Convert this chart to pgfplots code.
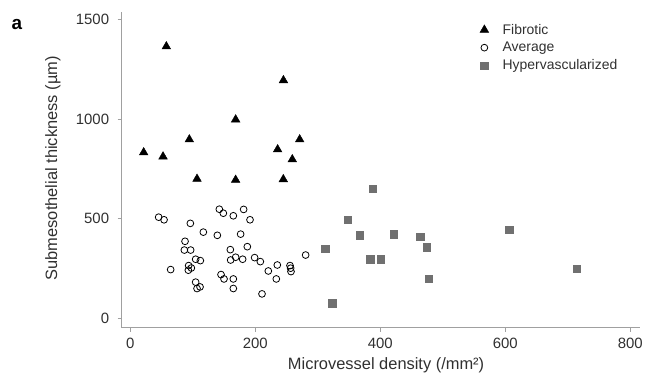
\documentclass[border=0pt]{standalone}
\usepackage{pgfplots}
\pgfplotsset{compat=1.18}
\usepackage{fontspec}
\setmainfont{Liberation Sans}
\definecolor{axgray}{HTML}{A0A0A0}
\definecolor{txt}{HTML}{303030}
\definecolor{sq}{HTML}{707070}
\begin{document}
\begin{tikzpicture}
\begin{axis}[
  scale only axis, width=519bp, height=316bp,
  xmin=-14, xmax=816, ymin=-47, ymax=1538,
  axis x line*=bottom, axis y line*=left,
  axis line style={axgray, line width=0.8bp},
  xtick={0,200,400,600,800}, ytick={0,500,1000,1500},
  tick align=outside, major tick length=4bp,
  tick style={axgray, line width=0.8bp},
  /pgf/number format/assume math mode=true,
  /pgf/number format/1000 sep={},
  ticklabel style={font=\fontsize{15}{17}\selectfont, text=txt},
  yticklabel style={xshift=-5bp},
  xticklabel style={yshift=-3bp},
  xlabel={Microvessel density (/mm²)},
  ylabel={Submesothelial thickness (µm)},
  label style={font=\fontsize{16.5}{18}\selectfont, text=txt},
  xlabel style={at={(axis description cs:0.51,0)}, anchor=center, yshift=-38bp},
  ylabel style={at={(axis description cs:-0.1324,0.505)}, anchor=center},
  legend style={draw=none, fill=none, at={(0.685,0.975)}, anchor=north west,
    font=\fontsize{14}{16}\selectfont, text=txt, row sep=2.5bp,
    /tikz/every odd column/.append style={column sep=12bp}},
  legend cell align=left,
  clip=false,
]
\addplot[only marks, mark=triangle*, mark size=5bp, black] coordinates {
(57.6,1365) (245,1195) (168.5,998) (94.4,898) (271,898) (21.3,833)
(52.3,812) (235.7,848) (259.2,798) (106.7,700) (168.5,695) (244.8,698)
};
\addlegendentry{Fibrotic}
\addplot[only marks, mark=o, mark size=3.4bp, black, line width=0.8bp] coordinates {
(45.3,508) (53.9,495) (142.4,548) (148.8,528) (164.8,515) (181.3,547)
(191.5,495) (96,477) (116.8,433) (139.2,417) (176.5,423) (87.5,387)
(86.4,343) (96.5,343) (160,345) (187.2,360) (104.5,297) (112,290)
(160.5,293) (168.5,307) (179.7,297) (198.9,305) (208,285) (64.5,245)
(93.3,265) (97.6,253) (92.8,242) (220.8,238) (235.2,268) (255.5,265)
(256.5,252) (257.1,235) (280.5,318) (145.1,220) (149.9,198) (164.8,198)
(233.6,198) (104.5,182) (106.7,150) (111.5,158) (164.8,150) (210.7,123)
};
\addlegendentry{Average}
\addplot[only marks, mark=square*, mark size=3.7bp, sq, draw=sq] coordinates {
(387.7,650) (348.3,495) (367.5,417) (421.3,423) (464,410) (312,350)
(474,358) (384,297) (401,297) (477.3,198) (323.2,77) (606,445) (714,248)
};
\addlegendentry{Hypervascularized}
\node[font=\fontsize{19}{21}\selectfont\bfseries, text=black] at (axis description cs:-0.2017,0.959) {a};
\end{axis}
\path ([xshift=-121.7bp, yshift=-56bp]current axis.south west) rectangle ([xshift=5bp, yshift=12bp]current axis.north east);
\end{tikzpicture}
\end{document}
